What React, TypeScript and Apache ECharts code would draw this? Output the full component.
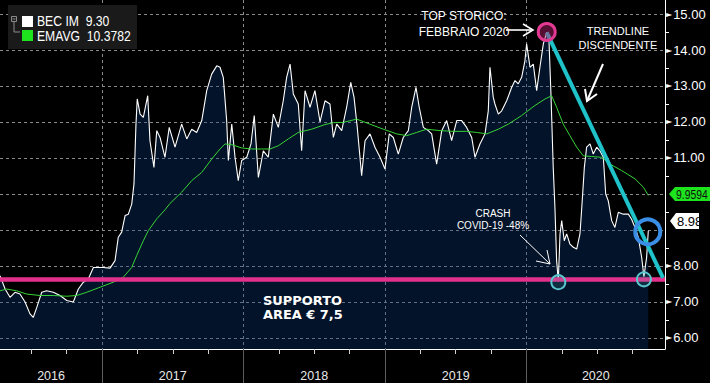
import React, { useEffect, useRef } from "react";
import * as echarts from "echarts";

// Time is expressed in decimal years
const priceTime = [
  2016.279, 2016.315, 2016.35, 2016.385, 2016.42, 2016.456, 2016.491, 2016.514, 2016.539, 2016.574,
  2016.609, 2016.656, 2016.703, 2016.751, 2016.797, 2016.833, 2016.868, 2016.903, 2016.939, 2016.974,
  2017.009, 2017.057, 2017.092, 2017.115, 2017.139, 2017.163, 2017.186, 2017.21, 2017.226, 2017.24,
  2017.249, 2017.269, 2017.292, 2017.323, 2017.339, 2017.367, 2017.387, 2017.41, 2017.445, 2017.475,
  2017.516, 2017.563, 2017.599, 2017.634, 2017.669, 2017.705, 2017.74, 2017.775, 2017.811, 2017.834,
  2017.857, 2017.881, 2017.893, 2017.917, 2017.94, 2017.963, 2017.987, 2018.023, 2018.053, 2018.076,
  2018.105, 2018.14, 2018.175, 2018.211, 2018.246, 2018.281, 2018.305, 2018.329, 2018.352, 2018.387,
  2018.411, 2018.435, 2018.47, 2018.505, 2018.541, 2018.576, 2018.611, 2018.635, 2018.659, 2018.694,
  2018.729, 2018.758, 2018.781, 2018.804, 2018.835, 2018.859, 2018.894, 2018.929, 2018.965, 2019.0,
  2019.03, 2019.059, 2019.094, 2019.129, 2019.165, 2019.189, 2019.219, 2019.242, 2019.271, 2019.306,
  2019.33, 2019.365, 2019.401, 2019.436, 2019.471, 2019.507, 2019.542, 2019.577, 2019.613, 2019.636,
  2019.671, 2019.707, 2019.73, 2019.742, 2019.765, 2019.777, 2019.801, 2019.825, 2019.86, 2019.895,
  2019.919, 2019.942, 2019.966, 2019.989, 2020.001, 2020.025, 2020.048, 2020.072, 2020.095, 2020.119,
  2020.143, 2020.159, 2020.173, 2020.189, 2020.201, 2020.213, 2020.225, 2020.237, 2020.249, 2020.267,
  2020.284, 2020.307, 2020.331, 2020.355, 2020.378, 2020.394, 2020.409, 2020.425, 2020.449, 2020.472,
  2020.496, 2020.519, 2020.543, 2020.56, 2020.578, 2020.602, 2020.625, 2020.649, 2020.684, 2020.72,
  2020.743, 2020.767, 2020.79, 2020.814, 2020.83, 2020.849, 2020.861,
];
const priceClose = [
  7.73, 7.36, 7.13, 7.27, 7.22, 7.0, 6.67, 6.57, 6.85, 7.27,
  7.31, 7.27, 7.18, 7.04, 7.0, 7.36, 7.55, 7.64, 7.96, 7.96,
  7.96, 7.94, 8.15, 8.8, 8.94, 9.4, 9.44, 9.72, 10.28, 11.94,
  12.64, 12.22, 12.13, 12.73, 11.48, 10.74, 11.76, 11.57, 11.02, 11.85,
  11.3, 11.94, 11.53, 11.8, 11.71, 12.04, 12.87, 13.33, 13.56, 13.52,
  13.24, 12.04, 10.93, 11.94, 11.02, 10.37, 10.93, 11.02, 11.39, 12.18,
  10.46, 11.2, 11.02, 12.22, 11.85, 12.59, 13.24, 13.61, 12.78, 12.5,
  11.2, 12.87, 12.41, 12.87, 12.0, 12.59, 12.5, 11.57, 11.94, 11.76,
  12.41, 13.1, 12.69, 11.85, 10.51, 11.48, 11.67, 11.3, 11.02, 10.69,
  11.67, 11.57, 11.11, 11.57, 11.76, 12.41, 12.96, 12.41, 11.85, 11.76,
  11.67, 10.83, 11.76, 12.04, 11.48, 12.04, 12.04, 11.85, 11.57, 11.02,
  11.39, 11.67, 12.31, 13.52, 12.69, 12.5, 12.22, 12.31, 12.59, 12.96,
  13.15, 13.06, 13.24, 13.7, 14.17, 13.52, 13.61, 12.87, 13.52, 14.17,
  14.49, 14.26, 12.78, 10.74, 9.63, 8.15, 7.58, 8.89, 9.26, 8.7,
  8.89, 8.61, 8.52, 8.47, 8.89, 9.81, 10.74, 11.3, 11.39, 11.11,
  11.3, 11.2, 11.02, 10.0, 9.81, 9.26, 9.07, 9.49, 9.44, 9.44,
  9.3, 9.07, 8.8, 8.24, 7.7, 8.24, 8.98,
];

const emaTime = [
  2016.279, 2016.326, 2016.397, 2016.468, 2016.562, 2016.656, 2016.751, 2016.821, 2016.892, 2016.986,
  2017.08, 2017.151, 2017.21, 2017.245, 2017.292, 2017.327, 2017.387, 2017.445, 2017.481, 2017.563,
  2017.634, 2017.705, 2017.775, 2017.834, 2017.869, 2017.917, 2017.987, 2018.058, 2018.129, 2018.187,
  2018.246, 2018.317, 2018.387, 2018.482, 2018.576, 2018.635, 2018.706, 2018.8, 2018.894, 2018.988,
  2019.083, 2019.153, 2019.224, 2019.295, 2019.389, 2019.483, 2019.577, 2019.648, 2019.719, 2019.801,
  2019.871, 2019.966, 2020.06, 2020.131, 2020.178, 2020.213, 2020.26, 2020.307, 2020.355, 2020.401,
  2020.461, 2020.531, 2020.59, 2020.673, 2020.767, 2020.826, 2020.861,
];
const emaValue = [
  7.31, 7.36, 7.31, 7.22, 7.18, 7.18, 7.16, 7.18, 7.27, 7.41,
  7.55, 7.69, 7.96, 8.29, 8.7, 8.98, 9.31, 9.56, 9.74, 10.05,
  10.37, 10.6, 10.97, 11.25, 11.39, 11.37, 11.28, 11.25, 11.25, 11.25,
  11.34, 11.53, 11.71, 11.8, 11.93, 11.98, 11.99, 12.08, 11.94, 11.8,
  11.67, 11.62, 11.71, 11.8, 11.76, 11.74, 11.74, 11.71, 11.67, 11.8,
  11.94, 12.18, 12.46, 12.64, 12.73, 12.41, 11.94, 11.62, 11.3, 11.06,
  11.04, 11.02, 10.83, 10.65, 10.42, 10.19, 9.96,
];

const yGridValues = [6, 7, 8, 9, 10, 11, 12, 13, 14, 15];
const yLabelValues = [6, 7, 8, 11, 12, 13, 14, 15];
const yMinorTicks = [6.5, 7.5, 8.5, 9.5, 10.5, 11.5, 12.5, 13.5, 14.5];
const yearBounds = [2017, 2018, 2019, 2020];
const yearLabelAt = [2016.64, 2017.5, 2018.5, 2019.5, 2020.49];
const quarterTicks = [
  2016.5, 2016.75, 2017.25, 2017.5, 2017.75, 2018.25, 2018.5, 2018.75,
  2019.25, 2019.5, 2019.75, 2020.25, 2020.5, 2020.75,
];

const supportLevel = 7.63;
const trendStart = [2020.143, 14.49];
const trendEnd = [2020.965, 7.67];
const topPoint = [2020.143, 14.5];
const crashLow = [2020.225, 7.55];
const recentLow = [2020.83, 7.63];
const breakPoint = [2020.857, 8.95];

const legendPrice = "9.30";
const legendEma = "10.3782";
const lastPriceTag = "8.98";
const lastEmaTag = "9.9594";

const X_MIN = 2016.279;
const X_MAX = 2020.979;
const Y_MIN = 5.694;
const Y_MAX = 15.389;

const SANS = "'Liberation Sans', Arial, sans-serif";
const BOLD = "bold 12px 'DejaVu Sans', sans-serif";

export default function App() {
  const ref = useRef<HTMLDivElement>(null);

  useEffect(() => {
    document.body.style.margin = "0";
    document.body.style.background = "#000";
    if (!ref.current) return;
    const chart = echarts.init(ref.current, undefined, { renderer: "svg" });

    const white = "#ffffff";
    const gridColor = "#8a8a8a";

    const option: any = {
      animation: false,
      backgroundColor: "#000000",
      grid: { left: 0, right: 45, top: 0, bottom: 34, containLabel: false },
      xAxis: [
        {
          type: "value",
          min: X_MIN,
          max: X_MAX,
          position: "bottom",
          axisLine: { show: true, onZero: false, lineStyle: { color: white, width: 1 } },
          axisTick: { show: true, customValues: yearBounds, length: 34, lineStyle: { color: "#5c5c5c" } },
          axisLabel: {
            customValues: yearLabelAt,
            formatter: (v: number) => String(Math.floor(v + 1e-6)),
            color: "#e8e8e8",
            fontSize: 12.5,
            fontFamily: SANS,
            margin: 20,
          },
          splitLine: { show: true, lineStyle: { color: gridColor, type: [3, 3], width: 1 } },
        },
        {
          type: "value",
          min: X_MIN,
          max: X_MAX,
          position: "bottom",
          axisLine: { show: false },
          axisTick: { show: true, customValues: quarterTicks, length: 5, lineStyle: { color: "#d0d0d0" } },
          axisLabel: { show: false },
          splitLine: { show: false },
        },
      ],
      yAxis: [
        {
          type: "value",
          position: "right",
          min: Y_MIN,
          max: Y_MAX,
          axisLine: { show: true, lineStyle: { color: white, width: 1 } },
          axisTick: { show: false, customValues: yGridValues },
          axisLabel: {
            customValues: yLabelValues,
            margin: 1,
            formatter: (v: number) => "{t|\u25BA}{v|" + v.toFixed(2) + "}",
            rich: {
              t: { fontSize: 8, color: white, fontFamily: "'DejaVu Sans', sans-serif", padding: [0, 1, 0, 0] },
              v: { fontSize: 13, color: white, fontFamily: SANS },
            },
          },
          splitLine: { show: true, lineStyle: { color: gridColor, type: [3, 3], width: 1 } },
        },
        {
          type: "value",
          position: "right",
          min: Y_MIN,
          max: Y_MAX,
          axisLine: { show: false },
          axisTick: { show: true, customValues: yMinorTicks, length: 4, lineStyle: { color: white } },
          axisLabel: { show: false },
          splitLine: { show: false },
        },
      ],
      series: [
        {
          type: "line",
          name: "BEC IM",
          xAxisIndex: 0,
          yAxisIndex: 0,
          data: priceTime.map((t, i) => [t, priceClose[i]]),
          symbol: "none",
          showSymbol: false,
          lineStyle: { color: white, width: 1.1 },
          areaStyle: { color: "rgba(10,60,130,0.45)", origin: "start" },
          z: 2,
          silent: true,
        },
        {
          type: "line",
          name: "EMAVG",
          xAxisIndex: 0,
          yAxisIndex: 0,
          data: emaTime.map((t, i) => [t, emaValue[i]]),
          symbol: "none",
          showSymbol: false,
          lineStyle: { color: "#36d436", width: 1 },
          z: 3,
          silent: true,
          markLine: {
            silent: true,
            symbol: ["none", "none"],
            label: { show: false },
            data: [
              { yAxis: supportLevel, lineStyle: { color: "#e2308c", width: 4.5, type: "solid" } },
              [
                { coord: trendStart, lineStyle: { color: "#1fc2c9", width: 4, type: "solid" } },
                { coord: trendEnd },
              ],
            ],
          },
          markPoint: {
            silent: true,
            symbol: "circle",
            label: { show: false },
            data: [
              {
                coord: topPoint,
                symbolSize: 17,
                itemStyle: { color: "rgba(190,30,110,0.45)", borderColor: "#e23a92", borderWidth: 3 },
              },
              {
                coord: crashLow,
                symbolSize: 14,
                itemStyle: { color: "rgba(90,200,210,0.15)", borderColor: "#5cc6cf", borderWidth: 2 },
              },
              {
                coord: recentLow,
                symbolSize: 14,
                itemStyle: { color: "rgba(90,200,210,0.15)", borderColor: "#5cc6cf", borderWidth: 2 },
              },
              {
                coord: breakPoint,
                symbolSize: 25,
                itemStyle: { color: "rgba(0,0,0,0)", borderColor: "#3b8ee6", borderWidth: 4 },
              },
            ],
          },
        },
      ],
      graphic: [
        // legend box
        { type: "rect", z: 100, shape: { x: 8, y: 5, width: 129, height: 44 }, style: { fill: "#1a1a1a" } },
        { type: "rect", z: 101, shape: { x: 11.5, y: 16.5, width: 5, height: 5 }, style: { fill: "none", stroke: "#8a8a8a", lineWidth: 1 } },
        { type: "line", z: 101, shape: { x1: 12.5, y1: 19, x2: 15.5, y2: 19 }, style: { stroke: "#8a8a8a", lineWidth: 1 } },
        { type: "polyline", z: 101, shape: { points: [[14, 22], [14, 32], [20, 32]] }, style: { fill: "none", stroke: "#8a8a8a", lineWidth: 1 } },
        { type: "rect", z: 101, shape: { x: 22, y: 16, width: 11, height: 11 }, style: { fill: "#ffffff" } },
        { type: "rect", z: 101, shape: { x: 22, y: 30, width: 11, height: 11 }, style: { fill: "#1ee41e" } },
        {
          type: "text", z: 101, x: 37, y: 21.5, scaleX: 0.84,
          style: { text: "BEC IM  " + legendPrice, fill: "#fff", font: "14.5px " + SANS, textVerticalAlign: "middle" },
        },
        {
          type: "text", z: 101, x: 37, y: 36, scaleX: 0.84,
          style: { text: "EMAVG  " + legendEma, fill: "#fff", font: "14.5px " + SANS, textVerticalAlign: "middle" },
        },
        // top annotation
        { type: "text", z: 100, x: 464, y: 16, style: { text: "TOP STORICO:", fill: "#fff", font: "12px " + SANS, textAlign: "center", textVerticalAlign: "middle" } },
        { type: "text", z: 100, x: 464, y: 32, style: { text: "FEBBRAIO 2020", fill: "#fff", font: "12px " + SANS, textAlign: "center", textVerticalAlign: "middle" } },
        { type: "line", z: 100, shape: { x1: 506, y1: 30, x2: 532, y2: 30 }, style: { stroke: "#fff", lineWidth: 1.6 } },
        { type: "polyline", z: 100, shape: { points: [[523, 24], [533, 30], [523, 36]] }, style: { fill: "none", stroke: "#fff", lineWidth: 1.6 } },
        // trendline annotation
        { type: "text", z: 100, x: 618, y: 31, style: { text: "TRENDLINE", fill: "#fff", font: "11px " + SANS, textAlign: "center", textVerticalAlign: "middle" } },
        { type: "text", z: 100, x: 618, y: 45, style: { text: "DISCENDENTE", fill: "#fff", font: "11px " + SANS, textAlign: "center", textVerticalAlign: "middle" } },
        { type: "line", z: 100, shape: { x1: 603, y1: 64, x2: 587, y2: 101 }, style: { stroke: "#fff", lineWidth: 2 } },
        { type: "polyline", z: 100, shape: { points: [[585, 89], [587, 101], [597, 94]] }, style: { fill: "none", stroke: "#fff", lineWidth: 2 } },
        // crash annotation
        { type: "text", z: 100, x: 493, y: 213, style: { text: "CRASH", fill: "#fff", font: "10px " + SANS, textAlign: "center", textVerticalAlign: "middle" } },
        { type: "text", z: 100, x: 493, y: 225, style: { text: "COVID-19 -48%", fill: "#fff", font: "10px " + SANS, textAlign: "center", textVerticalAlign: "middle" } },
        { type: "line", z: 100, shape: { x1: 520, y1: 235, x2: 550, y2: 264 }, style: { stroke: "#fff", lineWidth: 1 } },
        { type: "polyline", z: 100, shape: { points: [[536, 261], [550, 264], [547, 250]] }, style: { fill: "none", stroke: "#fff", lineWidth: 1 } },
        // support annotation
        { type: "text", z: 100, x: 263, y: 301, scaleX: 1.08, style: { text: "SUPPORTO", fill: "#fff", font: BOLD, textVerticalAlign: "middle" } },
        { type: "text", z: 100, x: 263, y: 315, scaleX: 1.08, style: { text: "AREA \u20AC 7,5", fill: "#fff", font: BOLD, textVerticalAlign: "middle" } },
        // last value tags on the axis
        { type: "polygon", z: 100, shape: { points: [[669, 194], [675, 187], [712, 187], [712, 201], [675, 201]] }, style: { fill: "#1ee41e" } },
        { type: "text", z: 101, x: 676, y: 194.5, scaleX: 0.8, style: { text: lastEmaTag, fill: "#111", font: "13px " + SANS, textVerticalAlign: "middle" } },
        { type: "polygon", z: 100, shape: { points: [[670, 221], [676, 213], [699, 213], [699, 229], [676, 229]] }, style: { fill: "#ffffff" } },
        { type: "text", z: 101, x: 677, y: 221.5, style: { text: lastPriceTag, fill: "#000", font: "13px " + SANS, textVerticalAlign: "middle" } },
      ],
    };

    chart.setOption(option);
    return () => chart.dispose();
  }, []);

  return <div ref={ref} style={{ width: 710, height: 383, background: "#000" }} />;
}
